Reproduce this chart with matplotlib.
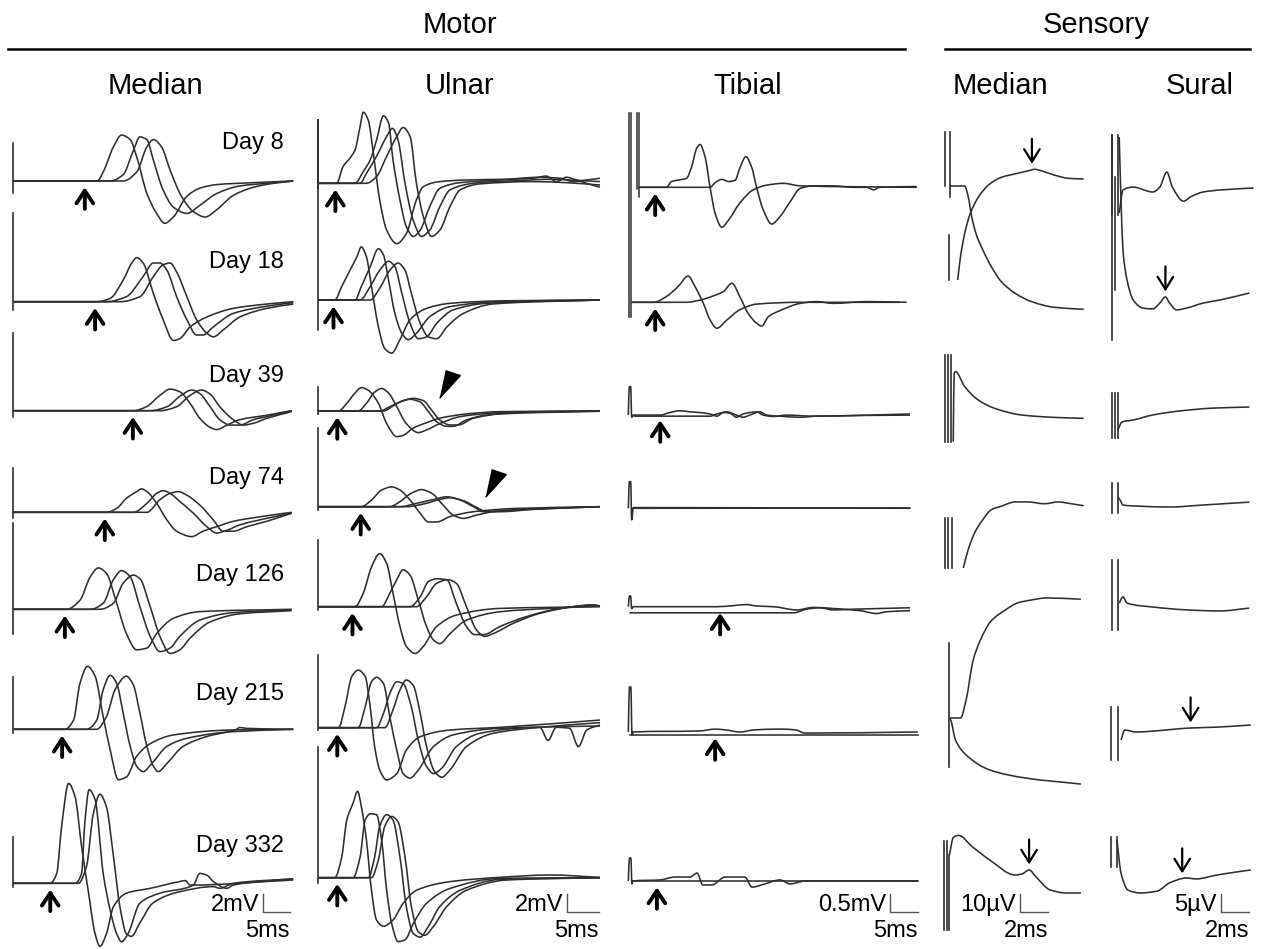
import matplotlib.pyplot as plt
from matplotlib.lines import Line2D
from matplotlib.path import Path
from matplotlib.patches import PathPatch

plt.rcParams['font.family'] = ['Liberation Sans', 'DejaVu Sans']

days = ["Day 8", "Day 18", "Day 39", "Day 74", "Day 126", "Day 215", "Day 332"]
col_titles = ["Median", "Ulnar", "Tibial", "Median", "Sural"]
group_titles = ["Motor", "Sensory"]

# ---- motor median: time (ms) / amplitude (mV), three stimulation sites ----
med_d8 = [
    [(0, 0), (15.6, 0), (16.7, 1.0), (18.6, 3.8), (20.1, 5.1), (21.7, 4.6), (22.9, 2.7), (24.8, -1.4), (26.6, -3.6), (28.1, -4.7), (29.7, -4.0), (32.2, -1.7), (34.6, -0.8), (37.7, -0.4), (43.9, -0.2), (51.9, 0)],
    [(0, 0), (18.0, 0), (20.4, 0.7), (22.3, 3.4), (23.5, 4.9), (24.8, 4.6), (26.0, 2.3), (27.8, -1.0), (29.7, -2.9), (32.2, -3.6), (34.6, -2.7), (37.7, -1.4), (42.0, -0.55), (47.0, -0.26), (51.9, 0)],
    [(0, 0), (20.4, 0), (22.9, 1.0), (24.8, 3.8), (26.0, 4.6), (27.5, 3.8), (29.1, 1.2), (31.2, -1.7), (33.4, -3.4), (35.6, -4.0), (37.7, -3.2), (40.8, -1.6), (44.5, -0.7), (48.2, -0.26), (51.9, 0)],
]
med_d18 = [
    [(0, 0), (15.5, 0), (18.0, 0.37), (20.4, 2.4), (22.0, 4.3), (22.9, 4.9), (24.1, 4.3), (26.0, 0.9), (27.8, -2.0), (29.7, -4.3), (30.9, -4.1), (32.8, -2.8), (35.9, -1.7), (40.8, -0.74), (47.0, -0.26), (51.9, 0)],
    [(0, 0), (17.3, 0), (21.0, 0.56), (24.1, 2.8), (26.0, 4.3), (27.2, 4.3), (28.5, 3.5), (30.3, 0.56), (32.2, -2.0), (34.0, -3.7), (35.2, -3.7), (37.1, -2.8), (40.8, -1.3), (47.0, -0.5), (51.9, -0.1)],
    [(0, 0), (19.8, 0), (23.5, 0.56), (26.0, 2.8), (27.8, 4.1), (29.1, 4.3), (30.3, 3.3), (32.2, 0.56), (34.0, -2.0), (35.9, -3.5), (37.1, -3.9), (39.0, -3.1), (42.0, -1.7), (47.0, -0.74), (51.9, -0.26)],
]
med_d39 = [
    [(0, 0), (22.3, 0), (24.7, 0.44), (27.2, 1.7), (29.1, 2.4), (30.9, 2.1), (32.8, 0.8), (34.6, -0.85), (36.5, -1.85), (37.7, -2.1), (39.6, -1.6), (42.0, -1.0), (47.0, -0.5), (51.6, 0)],
    [(0, 0), (25.4, 0), (28.5, 0.44), (30.9, 1.6), (33.1, 2.3), (34.6, 1.9), (36.5, 0.44), (38.3, -1.0), (40.2, -1.6), (42.0, -1.6), (44.5, -1.0), (48.2, -0.5), (51.6, 0)],
    [(0, 0), (27.2, 0), (30.3, 0.44), (32.8, 1.7), (34.9, 2.3), (36.5, 1.85), (38.3, 0.44), (40.8, -1.0), (42.7, -1.6), (44.5, -1.4), (47.0, -0.85), (51.6, -0.1)],
]
med_d74 = [
    [(0, 0), (17.3, 0), (19.2, 0.44), (21.0, 1.55), (22.9, 2.3), (23.8, 2.6), (24.8, 2.3), (26.6, 1.0), (28.5, -0.85), (30.3, -2.1), (33.1, -2.7), (35.2, -2.1), (37.7, -1.6), (40.8, -1.0), (45.7, -0.5), (51.6, 0)],
    [(0, 0), (22.3, 0), (24.8, 1.0), (26.6, 2.1), (27.8, 2.4), (29.1, 2.1), (30.9, 1.2), (33.4, -0.1), (35.9, -1.6), (37.7, -2.3), (39.6, -2.0), (42.0, -1.4), (47.0, -0.67), (51.6, -0.1)],
    [(0, 0), (24.8, 0), (27.2, 1.4), (29.1, 2.1), (30.6, 2.3), (32.2, 1.9), (34.6, 0.8), (37.1, -0.85), (38.9, -2.1), (40.8, -2.1), (43.3, -1.6), (47.0, -1.0), (51.6, -0.1)],
]
med_d126 = [
    [(0, 0), (9.9, 0), (12.4, 1.0), (14.3, 3.6), (15.8, 4.6), (17.3, 4.0), (19.2, 0.67), (21.0, -2.7), (22.9, -4.5), (24.8, -4.3), (26.6, -2.7), (29.7, -1.0), (34.6, -0.26), (51.6, 0)],
    [(0, 0), (14.3, 0), (16.7, 0.67), (18.6, 3.3), (20.1, 4.3), (21.7, 3.6), (23.5, 0.3), (25.4, -3.0), (27.2, -4.7), (29.1, -4.3), (30.9, -3.0), (34.6, -1.2), (40.8, -0.37), (51.6, -0.07)],
    [(0, 0), (16.1, 0), (18.6, 0.67), (20.4, 2.9), (22.3, 3.8), (23.5, 3.4), (25.4, 0.3), (27.2, -3.0), (29.1, -4.9), (30.9, -4.5), (32.8, -3.2), (36.5, -1.4), (42.0, -0.5), (51.6, -0.15)],
]
med_d215 = [
    [(0, 0), (9.6, 0), (11.2, 1.0), (12.4, 5.1), (13.8, 7.0), (15.2, 5.9), (16.7, 1.4), (18.0, -2.3), (19.5, -5.6), (21.0, -5.3), (22.9, -3.0), (25.4, -1.6), (29.7, -0.63), (40.8, -0.07), (51.9, 0)],
    [(0, 0), (13.6, 0), (15.5, 1.0), (16.7, 4.4), (18.0, 6.0), (19.2, 5.1), (20.4, 1.8), (21.7, -1.9), (22.9, -4.1), (24.1, -4.7), (25.7, -3.8), (28.5, -1.9), (32.2, -1.0), (40.8, -0.26), (51.9, 0)],
    [(0, 0), (15.5, 0), (17.3, 1.4), (18.9, 4.4), (21.0, 5.9), (22.3, 4.9), (23.5, 1.8), (24.8, -1.9), (26.0, -4.1), (26.9, -4.7), (28.5, -3.8), (31.5, -1.9), (35.9, -0.8), (41.4, 0), (42.0, 0.2), (43.3, 0.1), (51.9, 0)],
]
med_d332 = [
    [(0, 0), (6.9, 0), (8.1, 1.1), (9.0, 6.3), (10.3, 11.1), (11.5, 9.6), (12.7, 4.1), (14.0, -1.1), (15.2, -5.6), (16.1, -7.0), (17.3, -5.6), (18.6, -2.6), (21.0, -1.1), (25.4, -0.56), (30.9, 0.2), (31.9, 0.3), (32.8, -0.2), (51.9, 0.37)],
    [(0, 0), (11.5, 0), (12.7, 1.1), (13.3, 6.7), (14.1, 10.4), (15.2, 9.3), (16.7, 1.1), (18.0, -3.0), (19.2, -5.6), (20.1, -6.5), (21.3, -5.6), (23.5, -2.2), (27.2, -1.1), (33.4, -0.2), (34.6, 1.1), (35.9, 0.9), (37.1, 0.2), (39.6, -0.56), (40.8, -0.2), (51.9, 0.5)],
    [(0, 0), (12.1, 0), (13.6, 1.85), (14.9, 7.8), (16.1, 9.9), (17.3, 8.5), (18.6, 3.0), (19.8, -2.6), (21.0, -5.6), (21.9, -5.9), (23.5, -4.4), (25.9, -2.2), (30.9, -0.93), (37.1, -0.37), (38.3, -0.56), (40.8, 0), (51.9, 0.5)],
]
median_motor = [med_d8, med_d18, med_d39, med_d74, med_d126, med_d215, med_d332]
median_stim = [(4.2, -1.3), (9.9, -0.9), (8.6, -0.7), (4.9, -0.6), (9.6, -2.7), (5.8, -0.4), (5.1, -0.4)]
median_onset = [13.3, 15.2, 22.2, 17.0, 9.6, 9.1, 6.9]

# ---- motor ulnar: ms / mV, four stimulation sites ----
uln_d8 = [
    [(0, 0), (2.9, 0), (3.9, 1.85), (5.0, 2.8), (5.8, 3.7), (6.6, 6.3), (7.1, 7.9), (7.9, 7.0), (8.7, 3.3), (9.7, -1.85), (10.8, -5.2), (12.4, -6.7), (13.9, -5.6), (15.5, -1.85), (16.6, -0.37), (19.2, 0.19), (23.4, 0.37), (28.7, 0.44), (33.9, 0.56), (36.0, 0.8), (37.6, 0.19), (39.2, 0.67), (40.8, 0.37), (42.4, 0), (44.5, -0.44)],
    [(0, 0), (5.8, 0), (7.1, 1.3), (8.2, 2.6), (9.2, 4.8), (10.3, 7.5), (11.1, 6.7), (11.8, 2.6), (12.9, -1.85), (13.9, -4.8), (15.0, -5.9), (16.1, -5.2), (17.6, -2.6), (19.2, -0.56), (22.4, 0.07), (28.7, 0.37), (35.0, 0.67), (38.2, 0.56), (40.3, 0.19), (42.4, 0.37), (44.5, 0.56)],
    [(0, 0), (6.6, 0), (7.6, 1.1), (9.2, 3.0), (10.8, 5.2), (11.7, 6.1), (12.6, 4.8), (13.7, 0), (15.0, -4.1), (16.3, -5.9), (17.6, -5.2), (19.2, -2.6), (20.8, -0.74), (24.5, 0), (31.3, 0.3), (36.6, 0.44), (44.5, 0.19)],
    [(0, 0), (7.6, 0), (9.2, 0.74), (10.8, 3.0), (12.4, 5.2), (13.4, 6.2), (14.5, 5.2), (15.5, 0), (16.6, -3.7), (17.9, -5.9), (19.2, -5.2), (20.8, -2.6), (22.4, -0.74), (25.5, -0.07), (33.9, 0.19), (39.2, 0.07), (44.5, -0.19)],
]
uln_d18 = [
    [(0, 0), (2.6, 0), (3.7, 1.5), (5.0, 3.3), (6.1, 4.8), (6.8, 5.9), (7.6, 4.8), (8.4, 1.5), (9.5, -3.0), (10.5, -5.4), (11.6, -5.9), (12.9, -4.4), (14.5, -2.2), (17.1, -0.93), (20.8, -0.37), (28.7, -0.1), (44.5, 0)],
    [(0, 0), (5.8, 0), (6.8, 1.5), (8.2, 3.7), (9.5, 5.7), (10.3, 5.0), (11.1, 2.2), (12.1, -1.5), (13.2, -3.7), (14.2, -4.4), (15.5, -3.7), (17.6, -1.85), (20.8, -0.74), (28.7, -0.19), (44.5, 0)],
    [(0, 0), (6.6, 0), (8.2, 1.5), (9.7, 3.3), (11.1, 4.3), (12.1, 3.7), (13.2, 0.74), (14.5, -2.6), (15.8, -4.3), (17.1, -4.1), (18.7, -2.6), (21.3, -1.1), (26.6, -0.37), (44.5, 0)],
    [(0, 0), (8.2, 0), (9.7, 1.3), (11.3, 3.3), (12.6, 4.1), (13.7, 3.3), (14.7, 0.74), (16.1, -2.6), (17.4, -4.1), (18.7, -4.3), (20.3, -3.0), (22.9, -1.5), (27.6, -0.44), (44.5, 0)],
]
uln_d39 = [
    [(0, 0), (3.2, 0), (4.5, 0.85), (5.8, 2.0), (6.8, 2.6), (7.9, 2.3), (9.5, 0.85), (10.8, -1.4), (12.4, -2.85), (13.4, -2.7), (15.0, -1.9), (17.1, -1.3), (19.2, -0.8), (23.4, -0.33), (28.7, -0.07), (44.5, 0)],
    [(0, 0), (6.3, 0), (7.6, 0.85), (8.9, 2.1), (10.0, 2.5), (11.1, 2.0), (12.4, 0.48), (13.9, -1.4), (15.8, -2.4), (17.1, -2.1), (19.2, -1.4), (22.4, -0.63), (28.7, -0.19), (44.5, 0)],
    [(0, 0), (9.7, 0), (11.3, 0.48), (12.9, 1.0), (14.5, 1.3), (16.1, 1.0), (17.4, -0.07), (18.7, -1.2), (20.3, -1.7), (21.3, -1.7), (23.4, -1.0), (26.6, -0.44), (33.9, -0.1), (44.5, 0)],
    [(0, 0), (10.3, 0), (11.8, 0.56), (13.4, 1.15), (15.0, 1.4), (16.6, 1.15), (17.9, 0.1), (19.2, -1.0), (20.8, -1.55), (22.1, -1.55), (24.5, -0.8), (28.7, -0.33), (44.5, -0.03)],
]
uln_d74 = [
    [(0, 0), (6.8, 0), (8.4, 0.74), (10.0, 1.85), (11.6, 2.2), (12.9, 1.85), (14.5, 0.74), (16.1, -0.74), (17.4, -1.7), (18.7, -1.7), (20.8, -1.1), (24.5, -0.56), (31.3, -0.19), (44.5, 0)],
    [(0, 0), (11.3, 0), (12.9, 0.56), (14.7, 1.5), (16.3, 1.9), (17.9, 1.5), (19.7, 0.19), (21.3, -0.93), (22.9, -1.3), (25.0, -0.93), (28.7, -0.44), (44.5, 0)],
    [(0, 0), (12.9, 0), (15.5, 0.37), (18.2, 0.8), (20.3, 1.1), (22.4, 0.74), (24.5, 0), (26.1, -0.56), (28.7, -0.56), (33.9, -0.3), (44.5, 0)],
    [(0, 0), (13.9, 0), (16.6, 0.3), (19.2, 0.8), (20.8, 1.0), (22.9, 0.67), (25.0, -0.07), (26.6, -0.56), (29.7, -0.44), (36.6, -0.19), (44.5, 0)],
]
uln_d126 = [
    [(0, 0), (5.8, 0), (7.1, 1.5), (8.4, 4.4), (9.7, 5.9), (10.8, 4.8), (11.8, 1.5), (12.9, -2.2), (13.9, -4.4), (15.3, -5.2), (16.6, -4.4), (18.7, -2.2), (21.8, -0.93), (28.7, -0.19), (44.5, 0)],
    [(0, 0), (10.0, 0), (11.3, 1.5), (12.4, 3.0), (13.4, 4.1), (14.5, 3.5), (15.8, 0.74), (17.1, -2.2), (18.2, -3.7), (19.2, -4.1), (20.8, -3.0), (23.4, -1.5), (28.7, -0.56), (36.6, -0.19), (44.5, 0.07)],
    [(0, 0), (14.5, 0), (16.1, 1.1), (17.4, 2.8), (18.7, 3.1), (20.3, 3.0), (21.8, 0.37), (23.4, -2.2), (24.7, -3.1), (26.1, -3.1), (28.7, -2.2), (32.9, -1.1), (38.2, -0.19), (43.4, 0.19), (44.5, 0.07)],
    [(0, 0), (15.5, 0), (17.1, 1.1), (18.7, 2.6), (20.5, 3.0), (21.8, 2.6), (23.4, 0), (25.0, -2.6), (26.3, -3.3), (27.6, -3.0), (30.8, -1.85), (35.0, -0.74), (40.3, 0), (43.4, 0.19), (44.5, 0.07)],
]
uln_d215 = [
    [(0, 0), (3.2, 0), (4.2, 2.3), (5.3, 5.7), (6.3, 6.4), (7.4, 5.7), (8.2, 2.3), (8.9, -2.1), (9.7, -4.7), (10.8, -5.8), (12.4, -5.1), (13.9, -2.5), (16.1, -1.0), (20.8, -0.26), (28.7, 0.04), (44.5, 0.85)],
    [(0, 0), (6.3, 0), (7.4, 2.3), (8.4, 5.1), (9.2, 5.6), (10.3, 4.9), (11.3, 1.2), (12.4, -2.5), (13.4, -5.1), (14.5, -5.6), (15.8, -4.7), (18.2, -2.1), (21.3, -0.8), (28.7, -0.07), (35.0, 0.04), (36.3, -1.4), (37.6, 0.04), (39.7, -0.07), (41.1, -2.1), (42.4, -0.26), (44.5, 0.3)],
    [(0, 0), (9.2, 0), (10.3, 1.6), (11.3, 3.8), (12.4, 5.1), (13.4, 4.9), (14.7, 2.3), (15.8, -1.4), (17.1, -4.3), (18.2, -5.1), (19.5, -4.5), (21.8, -2.1), (25.5, -0.63), (33.9, 0.04), (44.5, 0.19)],
    [(0, 0), (10.5, 0), (11.8, 2.0), (12.9, 4.2), (13.9, 5.3), (15.0, 4.7), (16.1, 1.6), (17.1, -2.1), (18.4, -4.9), (19.5, -5.5), (20.8, -4.7), (23.4, -2.1), (27.6, -0.63), (35.0, 0.04), (44.5, 0.56)],
]
uln_d332 = [
    [(0, 0), (2.6, 0), (3.7, 2.3), (4.5, 6.4), (5.5, 8.3), (6.2, 9.6), (6.8, 7.9), (7.6, 4.2), (8.4, -1.4), (9.2, -4.7), (10.3, -5.4), (11.8, -4.7), (13.4, -2.85), (15.5, -1.4), (20.8, -0.44), (28.7, 0.04), (36.6, 0.3), (44.5, 0.04)],
    [(0, 0), (5.5, 0), (6.6, 2.3), (7.4, 6.4), (8.2, 7.1), (9.2, 7.0), (10.0, 4.2), (10.8, -1.4), (11.6, -5.1), (12.6, -7.1), (13.7, -6.9), (15.0, -5.1), (17.1, -2.85), (20.8, -1.2), (28.7, -0.07), (44.5, 0)],
    [(0, 0), (7.9, 0), (8.9, 2.3), (9.7, 5.7), (10.8, 7.0), (11.8, 6.4), (12.9, 2.3), (13.9, -3.2), (15.0, -6.2), (16.1, -6.6), (17.4, -5.4), (19.2, -3.2), (22.4, -1.4), (28.7, -0.19), (44.5, 0)],
    [(0, 0), (8.4, 0), (9.5, 2.0), (10.5, 5.7), (11.6, 6.8), (12.6, 6.2), (13.7, 2.3), (14.7, -3.2), (15.8, -6.0), (16.8, -6.4), (18.2, -5.4), (20.3, -3.2), (23.4, -1.4), (29.7, -0.26), (44.5, 0)],
]
ulnar_motor = [uln_d8, uln_d18, uln_d39, uln_d74, uln_d126, uln_d215, uln_d332]
ulnar_stim = [(7.0, -0.5), (20.0, -3.3), (2.7, -0.3), (8.7, -0.4), (7.4, -0.4), (8.1, -0.25), (14.5, -0.6)]
ulnar_onset = [2.7, 2.4, 3.0, 6.7, 5.4, 3.0, 3.0]
ulnar_dispersion = [(2, 20.5, 3.3), (3, 27.8, 3.0)]   # (row, ms, mV) of the arrowheads

# ---- motor tibial: ms / mV ----
tib_d8 = [
    [(1.5, 0), (6.5, 0), (7.4, 0.16), (8.6, 0.2), (10.1, 0.25), (11.0, 0.57), (11.9, 1.08), (12.5, 1.19), (13.4, 0.85), (14.3, 0), (15.2, -0.72), (16.4, -1.11), (17.6, -0.91), (19.6, -0.44), (22.0, -0.07), (24.4, 0.06), (27.4, 0.11), (30.4, 0.04), (51.2, 0)],
    [(1.5, 0), (14.3, 0), (15.2, 0.13), (16.4, 0.22), (17.6, 0.16), (18.8, 0.2), (19.6, 0.53), (20.7, 0.85), (21.7, 0.57), (22.6, 0), (23.8, -0.63), (25.3, -1.02), (26.8, -0.81), (28.6, -0.4), (30.4, -0.03), (32.7, 0.04), (36.3, 0.04), (39.9, 0), (42.3, 0), (43.5, -0.07), (44.6, 0), (51.2, 0.02)],
]
tib_d18 = [
    [(0.3, 0), (4.2, 0), (6.5, 0.16), (8.6, 0.44), (10.4, 0.73), (11.6, 0.44), (13.1, -0.03), (14.3, -0.49), (15.5, -0.72), (17.3, -0.49), (19.6, -0.21), (22.6, -0.05), (30.4, 0), (48.2, 0)],
    [(0.3, 0), (10.1, 0), (12.5, 0.06), (14.9, 0.18), (16.7, 0.3), (18.2, 0.53), (19.6, 0.16), (21.1, -0.31), (22.6, -0.58), (23.5, -0.66), (24.7, -0.4), (26.8, -0.23), (30.4, -0.03), (33.3, 0.02), (36.3, -0.03), (42.3, 0.02), (49.4, 0)],
]
tib_d39 = [
    [(-0.3, -0.03), (-0.12, 0.76), (0.12, 0.76), (0.3, -0.09), (0.6, -0.03), (5.4, -0.03), (7.1, 0.04), (8.9, 0.09), (10.7, 0.06), (12.5, 0.04), (14.3, 0), (15.5, -0.06), (16.7, 0.04), (17.9, 0.02), (19.0, -0.09), (20.2, 0), (21.4, 0.04), (22.6, 0.06), (23.8, -0.03), (25.6, -0.07), (28.0, -0.03), (32.7, -0.06), (50.0, 0)],
    [(0.6, -0.06), (14.3, -0.06), (15.5, 0), (17.3, 0.06), (19.0, -0.03), (20.2, -0.09), (21.4, -0.03), (23.2, 0.06), (24.4, -0.03), (26.8, -0.06), (30.4, -0.09), (33.3, -0.06), (50.0, -0.03)],
]
tib_d74 = [
    [(-0.3, 0), (-0.12, 0.74), (0.12, 0.74), (0.3, -0.32), (0.6, 0.02), (2.0, 0.02), (50.0, 0)],
    [(0.6, 0), (50.0, 0.01)],
]
tib_d126 = [
    [(-0.3, 0), (-0.1, 0.3), (0.1, 0.3), (0.3, -0.05), (0.6, 0), (15.5, 0), (18.5, 0.03), (20.8, 0.06), (22.6, 0.02), (25.6, 0), (29.8, -0.09), (32.7, -0.02), (36.3, -0.05), (41.1, -0.11), (44.0, -0.19), (45.8, -0.14), (50.0, -0.11)],
    [(-0.1, -0.17), (29.2, -0.17), (31.5, -0.07), (33.9, -0.03), (36.3, -0.09), (39.9, -0.07), (50.0, -0.03)],
]
tib_d215 = [
    [(-0.3, 0), (-0.1, 1.25), (0.15, 1.25), (0.36, -0.08), (0.6, 0), (12.5, 0.03), (15.2, 0.08), (17.0, 0.06), (19.6, 0), (22.3, 0.06), (26.8, 0.08), (29.5, 0.06), (31.3, -0.03), (51.4, 0)],
    [(0.0, -0.08), (51.4, -0.08)],
]
tib_d332 = [
    [(-0.3, 0), (-0.1, 0.64), (0.15, 0.64), (0.35, -0.08), (0.5, 0), (5.4, 0.03), (8.0, 0.11), (10.7, 0.11), (12.0, 0.22), (13.0, -0.11), (14.6, -0.11), (17.0, 0.11), (20.5, 0.11), (21.8, -0.17), (24.1, -0.08), (26.8, 0.03), (28.6, -0.08), (31.3, 0), (51.4, 0)],
    [(0.5, 0), (51.4, 0)],
]
tibial_motor = [tib_d8, tib_d18, tib_d39, tib_d74, tib_d126, tib_d215, tib_d332]
tibial_stim = [[(1.3, 2.06, -0.05), (1.6, 2.06, -0.26)], [(-0.15, 5.25, -0.4), (0.15, 5.25, -0.4)], [], [], [], [], []]
tibial_onset = [4.5, 4.5, 5.4, None, 16.1, 15.2, 4.8]

# ---- sensory median: ms / uV ----
sm_d8 = [[(0.24, 0), (1.3, 0), (1.55, -5.9), (1.8, -17), (2.1, -26.3), (2.6, -35.6), (3.2, -44.8), (3.9, -53), (4.9, -59.6), (6.1, -64.3), (7.7, -67.4), (9.8, -68.5)]]
sm_d18 = [[(0.8, 0), (1.0, 13), (1.3, 25.9), (1.7, 37), (2.3, 46.3), (3.0, 52.8), (3.9, 57), (5.1, 59.3), (5.8, 60.6), (6.3, 61.5), (6.8, 60.6), (7.7, 58.3), (8.7, 56.5), (9.8, 56.1)]]
sm_d39 = [[(0.48, -12.6), (0.55, 25.4), (0.64, 26.3), (1.3, 18), (2.26, 10.6), (3.45, 5.9), (5.4, 2.2), (7.7, 0.9), (9.8, 0.37)]]
sm_d74 = [[(1.2, 0), (1.55, 10.2), (2.0, 19.4), (2.6, 26.9), (3.2, 32.4), (3.9, 34.3), (4.9, 36.7), (5.8, 36.7), (7.0, 35.7), (8.0, 36.7), (8.9, 35.7), (9.8, 34.6)]]
sm_d126 = []
sm_d215 = [
    [(0.2, 0), (1.0, 0), (1.4, 10), (1.9, 32), (2.4, 43), (3.2, 54), (4.2, 60), (5.1, 64), (6.1, 65.6), (7.1, 66.7), (9.6, 66)],
    [(0.2, 0), (0.3, -1.1), (0.64, -12.2), (1.57, -21.7), (3.1, -28.9), (5.6, -33.3), (9.6, -36.7)],
]
sm_d332 = [[(0.2, 21), (0.5, 31), (0.86, 32), (1.86, 25.6), (3.1, 18.3), (4.9, 10), (5.4, 10.6), (5.9, 12.8), (6.4, 8.9), (7.4, 1.7), (8.6, 0), (9.6, 0)]]
sens_median = [sm_d8, sm_d18, sm_d39, sm_d74, sm_d126, sm_d215, sm_d332]
sens_median_stim = [[(-0.1, 30, 0), (0.24, 30, -6)], [(0.17, 25, 0)], [(-0.12, 35.6, -12.6), (0.1, 35.6, -12.6), (0.3, 35.6, -12.6)],
                    [(-0.12, 27.8, 0), (0.12, 27.8, 0), (0.36, 27.8, 0)], [], [(0.2, 41.7, -27)],
                    [(-0.2, 29, -20.6), (0.07, 29, -20.6), (0.2, 21, -20.6)]]
sens_median_snap = [(1, 6.1, 61.5), (6, 5.9, 12.8)]   # (row, ms, uV)

# ---- sensory sural: ms / uV ----
su_d8 = [[(0.3, -6.4), (0.57, 0), (1.3, 0.8), (2.7, -0.56), (3.2, 0.8), (3.7, 5), (4.1, 0.8), (4.9, -3.1), (5.4, -1.9), (6.3, -0.56), (7.5, 0), (9.9, 0.56)]]
su_d18 = [[(0.3, 45.8), (0.43, 28.3), (0.57, 14.4), (0.86, 6.1), (1.3, 0.56), (2.0, -1.7), (2.7, -1.9), (3.2, -0.3), (3.6, 1.4), (3.9, -0.3), (4.4, -2.2), (5.1, -1.7), (6.3, -0.3), (7.5, 0.56), (9.6, 2.5)]]
su_d39 = [[(0.2, -2.8), (0.5, -0.56), (1.3, 0), (2.7, 1.4), (4.6, 2.5), (7.0, 3.3), (9.6, 3.6)]]
su_d74 = [[(0.2, 2.2), (0.36, 1.4), (0.57, 0), (1.6, -0.3), (3.9, -0.56), (6.3, 0), (9.6, 0.8)]]
su_d126 = [[(0.3, 1.1), (0.57, 2.8), (0.86, 1.1), (2.7, 0), (5.1, -0.8), (7.5, -1.1), (9.6, -0.3)]]
su_d215 = [[(0.43, -2.8), (0.7, 0), (1.5, -0.56), (2.7, -0.3), (5.4, 0.56), (7.3, 0.8), (9.7, 1.4)]]
su_d332 = [[(0.14, 11.1), (0.43, 1.9), (0.93, -2.8), (1.8, -3.6), (3.0, -3.1), (3.9, -0.8), (5.1, 0.56), (5.8, 0.3), (7.3, 1.4), (9.7, 2.8)]]
sural = [su_d8, su_d18, su_d39, su_d74, su_d126, su_d215, su_d332]
sural_stim = [[(-0.2, 15.3, -7), (0.2, 15.3, -7)], [(-0.2, 46.4, -10.6), (0.0, 34.7, 3.3)], [(-0.2, 7.5, -5), (0.0, 7.5, -5), (0.2, 7.5, -5)],
              [(-0.2, 6.1, -2.2), (0.2, 6.1, -2.2)], [(-0.2, 13, -6.4), (0.2, 13, -6.4)], [(-0.3, 6.4, -8.3), (0.2, 6.4, -8.3)],
              [(-0.3, 11.9, 3.6), (0.14, 11.9, 3.6)]]
sural_snap = [(1, 3.6, 1.4), (5, 5.4, 0.56), (6, 4.8, 0.3)]

# scale bars: (amplitude, amplitude label, time, time label)
scales = [(2, "2mV", 5, "5ms"), (2, "2mV", 5, "5ms"), (0.5, "0.5mV", 5, "5ms"), (10, "10µV", 2, "2ms"), (5, "5µV", 2, "2ms")]

# ---------------- layout (pixels of the 1265 x 949 canvas) ----------------
W, H = 1265, 949
INK = '#2e2e2e'
FS = 17
fig = plt.figure(figsize=(W / 100, H / 100), dpi=100)

# x of stimulus, px per ms, px per amplitude unit, left, right
columns = [
    (13, 5.4, 9.0, 0, 300),
    (318.3, 6.33, 9.0, 305, 610),
    (630, 5.6, 36.0, 615, 925),
    (946.5, 14.0, 1.8, 930, 1095),
    (1115, 14.0, 3.6, 1100, 1262),
]
baselines = [
    [181, 301.7, 410.7, 512.3, 609.3, 729.3, 883.3],
    [183.3, 300, 411, 506.7, 606.7, 727.7, 877.7],
    [187.3, 302.3, 414, 508.3, 606.7, 732, 881],
    [186, 280, 419, 568, 640, 718, 893],
    [190, 302, 420, 505, 607, 730, 880],
]
scale_corner = [(263, 912), (567, 912), (890, 912), (1020, 912), (1221, 912)]


def make_ax(col, base):
    x0, ppx, ppy, xl, xr = col
    top, bot = base - 170, base + 170
    ax = fig.add_axes([xl / W, (H - bot) / H, (xr - xl) / W, (bot - top) / H])
    ax.set_xlim((xl - x0) / ppx, (xr - x0) / ppx)
    ax.set_ylim(-(bot - base) / ppy, (base - top) / ppy)
    ax.axis('off')
    return ax


def slopes(x, y):
    # monotone (pchip-like) tangents so the drawn curve never overshoots the read points
    n = len(x)
    h = [x[k + 1] - x[k] for k in range(n - 1)]
    d = [(y[k + 1] - y[k]) / h[k] for k in range(n - 1)]
    m = [0.0] * n
    m[0], m[-1] = d[0], d[-1]
    for k in range(1, n - 1):
        if d[k - 1] * d[k] <= 0:
            m[k] = 0.0
        else:
            w1, w2 = 2 * h[k] + h[k - 1], h[k] + 2 * h[k - 1]
            m[k] = (w1 + w2) / (w1 / d[k - 1] + w2 / d[k])
    return h, m


def trace(ax, pts, lw=1.15):
    x = [p[0] for p in pts]
    y = [p[1] for p in pts]
    if len(x) < 3:
        ax.plot(x, y, color=INK, lw=lw, clip_on=False)
        return
    h, m = slopes(x, y)
    verts, codes = [(x[0], y[0])], [Path.MOVETO]
    for k in range(len(x) - 1):
        verts += [(x[k] + h[k] / 3, y[k] + m[k] * h[k] / 3),
                  (x[k + 1] - h[k] / 3, y[k + 1] - m[k + 1] * h[k] / 3),
                  (x[k + 1], y[k + 1])]
        codes += [Path.CURVE4] * 3
    ax.add_patch(PathPatch(Path(verts, codes), fill=False, edgecolor=INK, lw=lw,
                           clip_on=False, joinstyle='round'))


def up_arrow(ax, t):
    ax.annotate('', xy=(t, 0), xytext=(0, -20), textcoords='offset points',
                arrowprops=dict(arrowstyle='->,head_length=0.45,head_width=0.3', lw=2.8,
                                color='black', shrinkA=0, shrinkB=4.5, mutation_scale=20))


def down_arrow(ax, t, v):
    ax.annotate('', xy=(t, v), xytext=(0, 22), textcoords='offset points',
                arrowprops=dict(arrowstyle='->,head_length=0.45,head_width=0.28', lw=1.6,
                                color='black', shrinkA=0, shrinkB=4, mutation_scale=20))


motor = [(median_motor, median_stim, median_onset), (ulnar_motor, ulnar_stim, ulnar_onset)]
axes = [[None] * 7 for _ in range(5)]

for c, (data, stim, onset) in enumerate(motor):
    for r in range(7):
        ax = make_ax(columns[c], baselines[c][r])
        axes[c][r] = ax
        top, bot = stim[r]
        ax.plot([0, 0], [bot, top], color=INK, lw=1.2, clip_on=False)
        for tr in data[r]:
            trace(ax, tr)
        up_arrow(ax, onset[r])

for r in range(7):
    ax = make_ax(columns[2], baselines[2][r])
    axes[2][r] = ax
    for t, top, bot in tibial_stim[r]:
        ax.plot([t, t], [bot, top], color=INK, lw=1.1, clip_on=False)
    for tr in tibial_motor[r]:
        trace(ax, tr)
    if tibial_onset[r] is not None:
        up_arrow(ax, tibial_onset[r])

for c, data, stim in [(3, sens_median, sens_median_stim), (4, sural, sural_stim)]:
    for r in range(7):
        ax = make_ax(columns[c], baselines[c][r])
        axes[c][r] = ax
        for t, top, bot in stim[r]:
            ax.plot([t, t], [bot, top], color=INK, lw=1.2, clip_on=False)
        for tr in data[r]:
            trace(ax, tr)

for r, t, v in sens_median_snap:
    down_arrow(axes[3][r], t, v)
for r, t, v in sural_snap:
    down_arrow(axes[4][r], t, v)

# arrowheads marking temporal dispersion in ulnar traces
tri = [(-3, 11), (12, 6), (-9, -17)]
for r, t, v in ulnar_dispersion:
    axes[1][r].plot(t, v, marker=tri, markersize=24, color='black', clip_on=False)

# scale bars, drawn in the data units of the last row
for c in range(5):
    x0, ppx, ppy, xl, xr = columns[c]
    ax = axes[c][6]
    cx, cy = scale_corner[c]
    t0 = (cx - x0) / ppx
    v0 = (baselines[c][6] - cy) / ppy
    amp, amp_lab, dur, dur_lab = scales[c]
    ax.plot([t0, t0, t0 + dur], [v0 + amp, v0, v0], color='#555555', lw=1.0, clip_on=False)
    fig.text((cx - 4) / W, 1 - 905 / H, amp_lab, ha='right', va='center', fontsize=FS)
    fig.text((cx + dur * ppx) / W, 1 - 931 / H, dur_lab, ha='right', va='center', fontsize=FS)

# day labels
day_y = [143, 262, 376, 478, 575, 694, 846]
for lab, y in zip(days, day_y):
    fig.text(284 / W, 1 - y / H, lab, ha='right', va='center', fontsize=FS)

# headers
fig.text(460 / W, 1 - 25 / H, group_titles[0], ha='center', va='center', fontsize=21)
fig.text(1096 / W, 1 - 25 / H, group_titles[1], ha='center', va='center', fontsize=21)
fig.add_artist(Line2D([8 / W, 905 / W], [1 - 49 / H] * 2, color='black', lw=1.8))
fig.add_artist(Line2D([945 / W, 1250 / W], [1 - 49 / H] * 2, color='black', lw=1.8))
for x, lab in zip([155, 460, 748, 1000, 1200], col_titles):
    fig.text(x / W, 1 - 86 / H, lab, ha='center', va='center', fontsize=21)

fig.savefig('out.png', dpi=100, facecolor='white')
